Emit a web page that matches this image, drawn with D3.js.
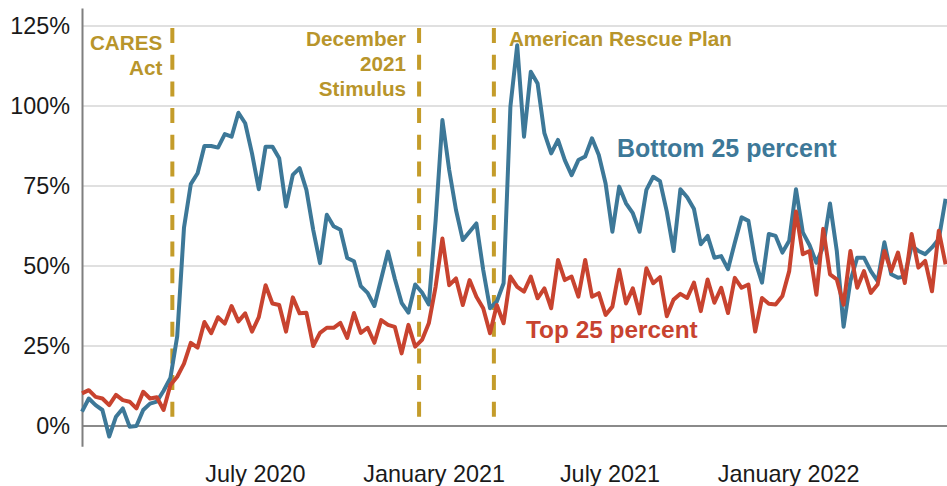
<!DOCTYPE html>
<html>
<head>
<meta charset="utf-8">
<script src="https://cdn.jsdelivr.net/npm/d3@7"></script>
<style>
  html, body { margin: 0; padding: 0; background: #fff; }
  svg { display: block; font-family: "Liberation Sans", Arial, sans-serif; }
</style>
</head>
<body>
<svg id="chart" width="947" height="486"></svg>
<script>
// Weekly observations, first week starting on this date
const firstWeek = "2020-01-05";

// Change in checking account balances vs. 2019, bottom quartile of income (%)
const bottom25 = [
  4.5, 8.6, 6.5, 5, -3.3, 2.9, 5.5, -0.2, 0, 5,
  7, 7.6, 11, 15, 28, 62, 75.6, 79, 87.5, 87.5,
  87, 91.2, 90.4, 97.9, 94.6, 85.2, 74, 87.3, 87.3, 83.7,
  68.6, 78.5, 80.6, 73.8, 61.3, 50.9, 66, 62.4, 61.3, 52.5,
  51.5, 43.7, 41.6, 37.5, 46, 54.5, 46, 38.5, 35.4, 44.2,
  41.7, 38, 64, 95.6, 80, 67.5, 58.1, 60.7, 63.3, 48.8,
  36.8, 38.9, 44.6, 99.8, 119, 90.4, 110.7, 107, 91.5, 85.2,
  89.4, 83.1, 78.4, 83.1, 84.2, 89.9, 84.7, 75.8, 60.7, 74.8,
  69.6, 66.5, 60.7, 73.8, 77.9, 76.5, 67, 54.7, 74, 71.5,
  67.8, 56.8, 59.4, 52.6, 53.1, 49, 57.3, 65.2, 64.1, 51.6,
  44.8, 60, 59.4, 54.2, 57.9, 74, 60.5, 56.5, 51, 56,
  69.5, 54.7, 31, 45.3, 52.6, 52.6, 48.4, 45.3, 57.4, 47.4,
  46.3, 46.8, 56.3, 54.7, 53.7, 55.8, 58.4, 71
];

// Same measure, top quartile of income (%)
const top25 = [
  10.2, 11.2, 9.1, 8.6, 6.5, 9.7, 8.1, 7.6, 5.5, 10.7,
  8.6, 9, 5, 12.8, 15.4, 19.5, 26, 24.5, 32.5, 29,
  34, 32, 37.5, 32.7, 35.2, 29.5, 34, 44, 38.3, 37.8,
  29.5, 40.2, 35.2, 35.4, 25, 29.1, 30.7, 30.7, 32.2, 27.5,
  35.3, 29.1, 30.7, 26, 33.1, 31.6, 31, 22.7, 31.6, 24.8,
  26.9, 32.1, 43.5, 58.6, 44, 46.1, 37.8, 45.6, 40.4, 36.8,
  29, 37.8, 32.1, 46.7, 43.5, 42, 46.7, 39.9, 43, 36.8,
  51.9, 45.6, 46.7, 40.4, 51.9, 40.4, 41.5, 34.7, 37.3, 48.8,
  38.3, 43, 35.2, 49.3, 44.6, 46.5, 34.3, 39.5, 41.3, 40,
  44.8, 35.9, 45.8, 38.5, 43.2, 35.3, 46.3, 43.2, 44.2, 29.5,
  40, 38.2, 38, 40.6, 48.4, 67, 53.7, 54.7, 41, 61.6,
  47.4, 45.8, 37.9, 54.7, 43.2, 48.4, 41.6, 44.2, 54.7, 48.4,
  54.2, 44.7, 60, 49.5, 51.6, 42.1, 61, 50.5
];

const yTicks = [0, 25, 50, 75, 100, 125];
const xTickDates = ["2020-07-01", "2021-01-01", "2021-07-01", "2022-01-01"];

// Policy events marked on the chart
const eventDates = ["2020-04-07", "2020-12-17", "2021-03-04"];
const eventLabels = [["CARES", "Act"], ["December", "2021", "Stimulus"], ["American Rescue Plan"]];

const seriesNames = ["Bottom 25 percent", "Top 25 percent"];

// ---- drawing ----
const parse = d3.timeParse("%Y-%m-%d");
const start = parse(firstWeek);
const dates = bottom25.map((_, i) => d3.timeDay.offset(start, 7 * i));

const svg = d3.select("#chart");
const W = 947, H = 486;
const left = 82;
const pxPerDay = 6.8 / 7;
const endDate = d3.timeDay.offset(start, 891);

const x = d3.scaleTime().domain([start, endDate]).range([left, left + 891 * pxPerDay]);
const y = d3.scaleLinear().domain([0, 125]).range([426, 26]);

const blue = "#3d7898";
const red = "#c8432f";
const gold = "#c49c2a";
const goldText = "#b8952b";

// horizontal gridlines
svg.append("g")
  .selectAll("line")
  .data(yTicks.filter(d => d !== 0))
  .join("line")
  .attr("x1", left).attr("x2", W)
  .attr("y1", d => y(d)).attr("y2", d => y(d))
  .attr("stroke", "#d6d6d6").attr("stroke-width", 1.5);

// zero baseline
svg.append("line")
  .attr("x1", left).attr("x2", W)
  .attr("y1", y(0)).attr("y2", y(0))
  .attr("stroke", "#8a8a8a").attr("stroke-width", 2);

// vertical axis line
svg.append("line")
  .attr("x1", left + 0.5).attr("x2", left + 0.5)
  .attr("y1", y(130.5)).attr("y2", y(-6.5))
  .attr("stroke", "#7f7f7f").attr("stroke-width", 2);

// y-axis labels
const yAxis = d3.axisLeft(y).tickValues(yTicks).tickFormat(d => d + "%").tickSize(0).tickPadding(12);
const gy = svg.append("g").attr("transform", `translate(${left},0)`).call(yAxis);
gy.select(".domain").remove();
gy.selectAll("text")
  .attr("font-family", '"Liberation Sans", Arial, sans-serif')
  .attr("font-size", 23.4).attr("fill", "#1a1a1a");

// x-axis labels
const xAxis = d3.axisBottom(x).tickValues(xTickDates.map(parse))
  .tickFormat(d3.timeFormat("%B %Y")).tickSize(0).tickPadding(39.5);
const gx = svg.append("g").attr("transform", `translate(0,${y(0)})`).call(xAxis);
gx.select(".domain").remove();
gx.selectAll("text")
  .attr("font-family", '"Liberation Sans", Arial, sans-serif')
  .attr("font-size", 23.4).attr("fill", "#1a1a1a");

// event markers
const ev = svg.append("g");
eventDates.forEach((d, k) => {
  const ex = x(parse(d));
  ev.append("line")
    .attr("x1", ex).attr("x2", ex)
    .attr("y1", y(125) + 2).attr("y2", y(0) - 3)
    .attr("stroke", gold).attr("stroke-width", 4)
    .attr("stroke-dasharray", "15,11.7");
  const last = k === eventDates.length - 1;
  const t = ev.append("text")
    .attr("font-weight", "bold").attr("font-size", 20.7)
    .attr("fill", goldText)
    .attr("text-anchor", last ? "start" : "end");
  const baseY = k === 0 ? 50 : 46;
  eventLabels[k].forEach((ln, j) => {
    t.append("tspan")
      .attr("x", last ? ex + 15 : ex - (k === 0 ? 10 : 13))
      .attr("y", baseY + 25 * j)
      .text(ln);
  });
});

// series lines
const line = vals => d3.line()
  .x((_, i) => x(dates[i]))
  .y(v => y(v))(vals);

svg.append("path")
  .attr("d", line(bottom25))
  .attr("fill", "none").attr("stroke", blue)
  .attr("stroke-width", 4).attr("stroke-linejoin", "round");

svg.append("path")
  .attr("d", line(top25))
  .attr("fill", "none").attr("stroke", red)
  .attr("stroke-width", 4).attr("stroke-linejoin", "round");

// series labels
svg.append("text")
  .attr("x", 617).attr("y", 157)
  .attr("font-weight", "bold").attr("font-size", 25)
  .attr("fill", blue).text(seriesNames[0]);

svg.append("text")
  .attr("x", 526).attr("y", 338)
  .attr("font-weight", "bold").attr("font-size", 24.4)
  .attr("fill", red).text(seriesNames[1]);
</script>
</body>
</html>
